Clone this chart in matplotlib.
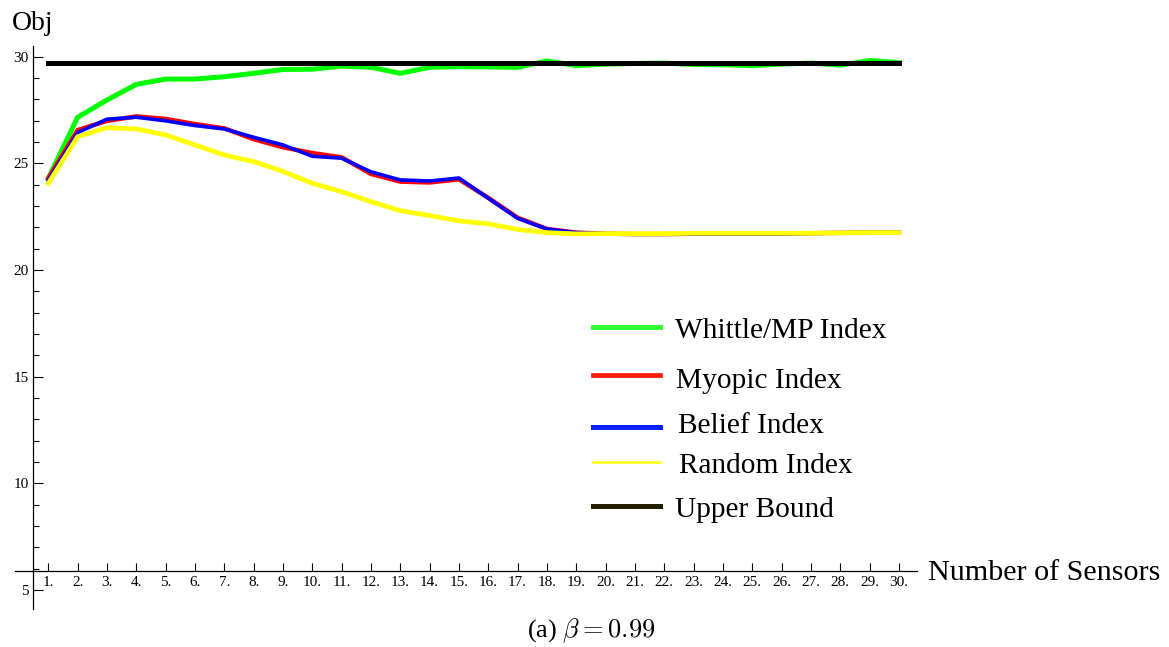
import numpy as np
import matplotlib
matplotlib.use('Agg')
import matplotlib.pyplot as plt
from matplotlib.lines import Line2D
from matplotlib.ticker import MultipleLocator

plt.rcParams['font.family'] = ['Liberation Serif', 'DejaVu Serif']
plt.rcParams['mathtext.fontset'] = 'cm'

# data
n_sensors = np.arange(1, 31)
whittle = [24.3, 27.16, 27.97, 28.7, 28.95, 28.95, 29.06, 29.22, 29.4, 29.41,
           29.56, 29.5, 29.22, 29.5, 29.53, 29.52, 29.5, 29.8, 29.58, 29.65,
           29.68, 29.7, 29.63, 29.62, 29.58, 29.65, 29.7, 29.6, 29.82, 29.72]
myopic = [24.3, 26.56, 26.99, 27.2, 27.08, 26.84, 26.64, 26.13, 25.75, 25.48,
          25.28, 24.5, 24.14, 24.1, 24.25, 23.38, 22.45, 21.92, 21.75, 21.7,
          21.68, 21.68, 21.7, 21.7, 21.7, 21.7, 21.72, 21.74, 21.75, 21.75]
belief = [24.2, 26.44, 27.07, 27.16, 26.99, 26.77, 26.61, 26.22, 25.86, 25.33,
          25.24, 24.6, 24.22, 24.17, 24.31, 23.36, 22.42, 21.92, 21.75, 21.7,
          21.68, 21.68, 21.7, 21.7, 21.7, 21.7, 21.72, 21.74, 21.75, 21.75]
random_idx = [24.06, 26.25, 26.67, 26.61, 26.33, 25.86, 25.39, 25.08, 24.62, 24.06,
              23.67, 23.2, 22.78, 22.55, 22.3, 22.16, 21.9, 21.75, 21.69, 21.7,
              21.7, 21.7, 21.72, 21.72, 21.72, 21.72, 21.72, 21.74, 21.75, 21.75]
upper = [29.72] * 30

labels = ['Whittle/MP Index', 'Myopic Index', 'Belief Index', 'Random Index', 'Upper Bound']

W, H = 1169, 647
fig = plt.figure(figsize=(W / 100, H / 100), dpi=100)
ax = fig.add_axes([0.01275, 0.0587, 0.7713, 0.8702])

ax.plot(n_sensors, whittle, color='#00ff00', lw=3.6, solid_joinstyle='round')
ax.plot(n_sensors, myopic, color='#ff0000', lw=3.2, solid_joinstyle='round')
ax.plot(n_sensors, belief, color='#0000ff', lw=2.6, solid_joinstyle='round')
ax.plot(n_sensors, random_idx, color='#ffff00', lw=3.4, solid_joinstyle='round')
ax.plot(n_sensors, upper, color='black', lw=3.6)

ax.set_xlim(-0.14, 30.6)
ax.set_ylim(4.1, 30.5)
ax.spines['top'].set_visible(False)
ax.spines['right'].set_visible(False)
ax.spines['left'].set_position(('data', 0.48))
ax.spines['bottom'].set_position(('data', 5.9))
for s in ('left', 'bottom'):
    ax.spines[s].set_linewidth(0.9)

ax.set_xticks(n_sensors)
ax.set_xticklabels(['%d.' % i for i in n_sensors])
ax.set_yticks([5, 10, 15, 20, 25, 30])
ax.yaxis.set_minor_locator(MultipleLocator(1))
ax.tick_params(axis='x', direction='in', length=6, width=0.8, labelsize=11, pad=4)
ax.tick_params(axis='y', which='major', direction='in', length=7, width=0.8, labelsize=11, pad=3)
ax.tick_params(axis='y', which='minor', direction='in', length=4, width=0.8)


def fx(x):
    return x / W


def fy(y):
    return 1 - y / H


# axis labels
fig.text(fx(12), fy(30), 'Obj', fontsize=20, va='baseline', ha='left')
fig.text(fx(928), fy(580), 'Number of Sensors', fontsize=21.7, va='baseline', ha='left')

# hand-placed legend
leg_colors = ['#33ff33', '#ff1a00', '#0022ff', '#ffff22', '#221c00']
leg_lw = [3.6, 3.4, 3.6, 2.0, 3.6]
leg_line_y = [326.7, 375, 426.7, 461.7, 506]
leg_text_y = [338, 388, 433, 473, 517]
leg_text_x = [675, 676, 678, 679, 675]
for lab, c, lw, ly, ty, tx in zip(labels, leg_colors, leg_lw, leg_line_y, leg_text_y, leg_text_x):
    fig.add_artist(Line2D([fx(593), fx(660)], [fy(ly), fy(ly)], color=c, lw=lw,
                          transform=fig.transFigure))
    fig.text(fx(tx), fy(ty), lab, fontsize=21.2, va='baseline', ha='left')

fig.text(fx(591), fy(637), r'(a) $\beta = 0.99$', fontsize=19, va='baseline', ha='center')

fig.savefig('out.png', dpi=100)
